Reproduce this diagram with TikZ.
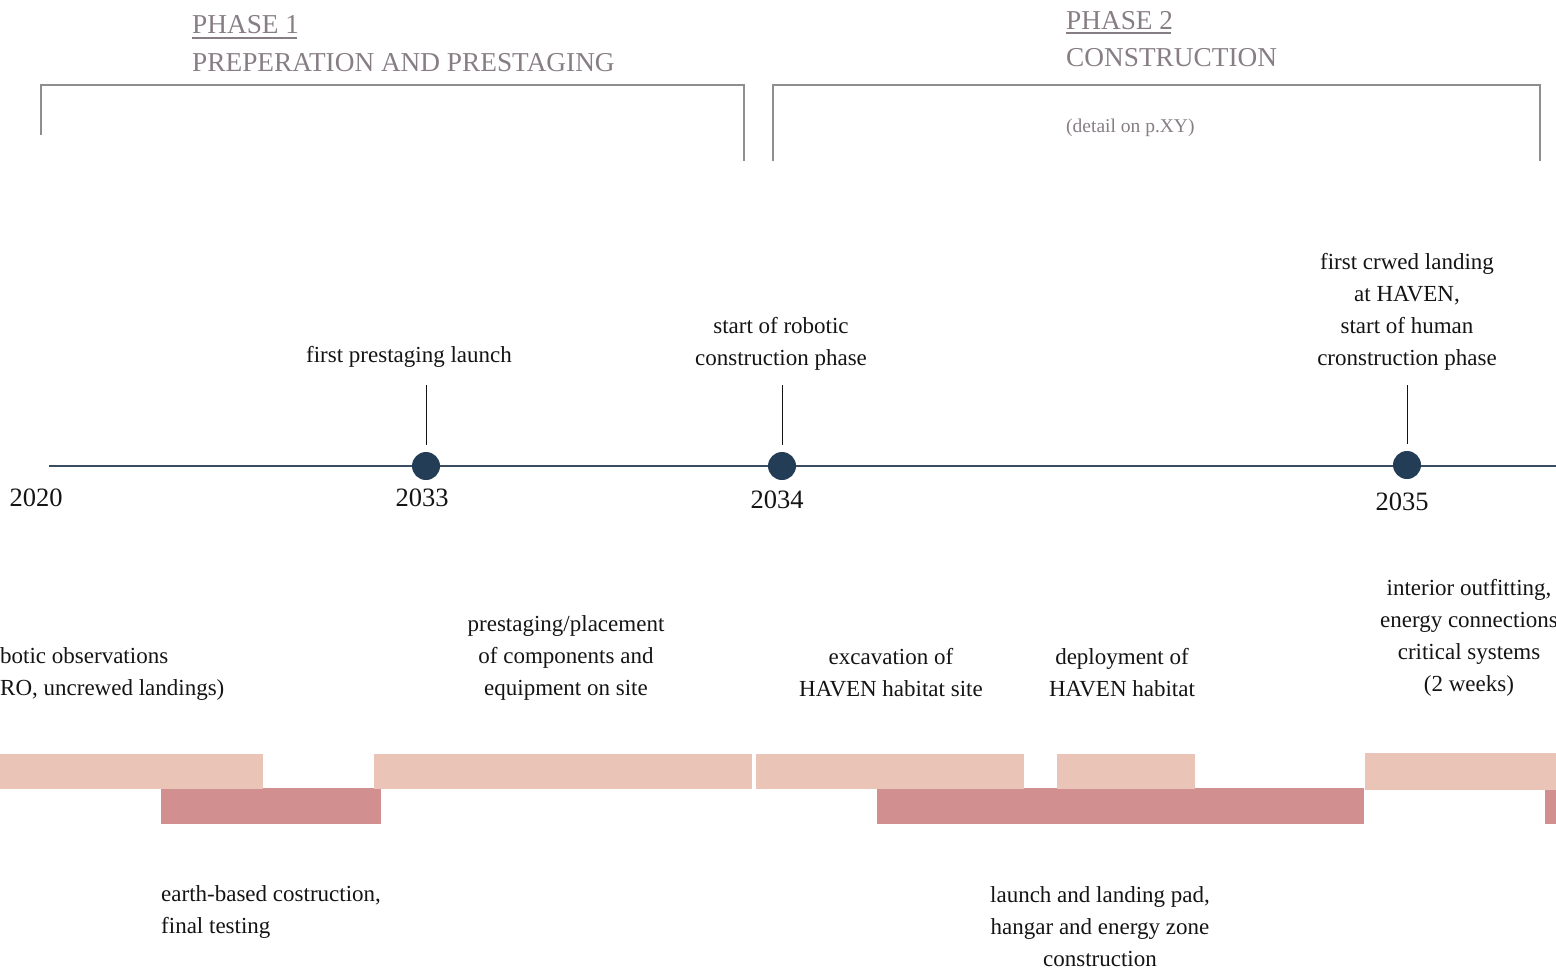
\documentclass[tikz,border=0pt]{standalone}
\usepackage{fontspec}
\setmainfont{Liberation Serif}
\usetikzlibrary{calc}

\definecolor{ink}{HTML}{141414}
\definecolor{phasegray}{HTML}{877E85}
\definecolor{bracketgray}{HTML}{8E8E8E}
\definecolor{axisblue}{HTML}{3A4D60}
\definecolor{dotblue}{HTML}{233D57}
\definecolor{barlight}{HTML}{EBC4B8}
\definecolor{bardark}{HTML}{D28F90}

\tikzset{
  phasetitle/.style={font=\fontsize{27.3}{36}\selectfont, text=phasegray, inner sep=0pt, anchor=base west},
  phasenote/.style={font=\fontsize{19.5}{24}\selectfont, text=phasegray, inner sep=0pt, anchor=base west},
  txt/.style={font=\fontsize{23}{32}\selectfont, text=ink, align=center, inner sep=0pt},
  txtleft/.style={txt, align=left, anchor=west},
  yearlabel/.style={font=\fontsize{26.5}{30}\selectfont, text=ink, inner sep=0pt, anchor=base},
  phasebracket/.style={draw=bracketgray, line width=1.8pt},
  underlinerule/.style={draw=phasegray, line width=1.4pt},
  axisline/.style={draw=axisblue, line width=2pt},
  milestone/.style={circle, fill=dotblue, minimum size=28pt, inner sep=0pt},
  tickline/.style={draw=ink, line width=1pt, shorten >=7pt},
  lightbar/.style={fill=barlight},
  darkbar/.style={fill=bardark},
}

\begin{document}
\begin{tikzpicture}[x=1pt, y=-1pt]
  \useasboundingbox (0,0) rectangle (1556,970);
  \clip (0,0) rectangle (1556,970);

  % phase headings
  \node[phasetitle] (p1) at (192,33) {PHASE 1};
  \node[phasetitle] (p1name) at (192,71) {PREPERATION AND PRESTAGING};
  \draw[underlinerule] ($(p1.base west)+(0,5)$) -- ($(p1.base east)+(-2,5)$);

  \node[phasetitle] (p2) at (1066,29) {PHASE 2};
  \node[phasetitle] (p2name) at (1066,66) {CONSTRUCTION};
  \draw[underlinerule] ($(p2.base west)+(0,4)$) -- ($(p2.base east)+(-2,4)$);
  \node[phasenote] (p2note) at (1066,132) {(detail on p.XY)};

  % phase brackets
  \draw[phasebracket] (41,135) -- (41,85) -- (744,85) -- (744,161);
  \draw[phasebracket] (773,161) -- (773,85) -- (1540,85) -- (1540,161);

  % time axis
  \coordinate (axstart) at (49,466);
  \coordinate (axend) at (1556,466);
  \draw[axisline] (axstart) -- (axend);

  \node[milestone] (d1) at (426,466) {};
  \node[milestone] (d2) at (782,466) {};
  \node[milestone] (d3) at (1407,465) {};

  \node[yearlabel] (y2020) at (36,506) {2020};
  \node[yearlabel] (y2033) at (422,506) {2033};
  \node[yearlabel] (y2034) at (777,508) {2034};
  \node[yearlabel] (y2035) at (1402,510) {2035};

  % milestone captions
  \node[txt] (m1) at (409,357) {first prestaging launch};
  \node[txt] (m2) at (781,344) {start of robotic\\construction phase};
  \node[txt] (m3) at (1407,312) {first crwed landing\\at HAVEN,\\start of human\\cronstruction phase};

  \coordinate (t1) at (426,385);
  \coordinate (t2) at (782,385);
  \coordinate (t3) at (1407,385);
  \draw[tickline] (t1) -- (d1.north);
  \draw[tickline] (t2) -- (d2.north);
  \draw[tickline] (t3) -- (d3.north);

  % task captions
  \node[txtleft] (a0) at (0,674) {botic observations\\RO, uncrewed landings)};
  \node[txt] (a1) at (566,658) {prestaging/placement\\of components and\\equipment on site};
  \node[txt] (a2) at (891,673) {excavation of\\HAVEN habitat site};
  \node[txt] (a3) at (1122,673) {deployment of\\HAVEN habitat};
  \node[txt] (a4) at (1469,638) {interior outfitting,\\energy connections\\critical systems\\(2 weeks)};

  \node[txtleft] (b1) at (161,912) {earth-based costruction,\\final testing};
  \node[txt] (b2) at (1100,927) {launch and landing pad,\\hangar and energy zone\\construction};

  % task bars
  \fill[darkbar] (161,788) rectangle (381,824);
  \fill[darkbar] (877,788) rectangle (1364,824);
  \fill[darkbar] (1545,790) rectangle (1556,824);

  \fill[lightbar] (0,754) rectangle (263,789);
  \fill[lightbar] (374,754) rectangle (752,789);
  \fill[lightbar] (756,754) rectangle (1024,789);
  \fill[lightbar] (1057,754) rectangle (1195,789);
  \fill[lightbar] (1365,753) rectangle (1556,790);
\end{tikzpicture}
\end{document}
